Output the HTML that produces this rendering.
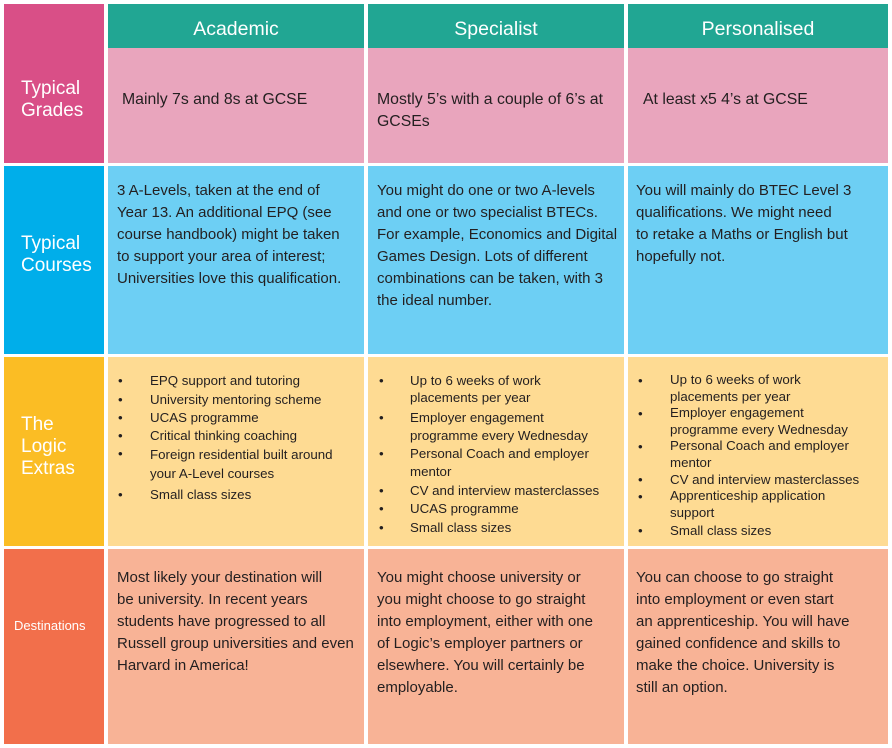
<!DOCTYPE html>
<html><head><meta charset="utf-8"><style>
body{margin:0;width:892px;height:748px;background:#fff;position:relative;font-family:"Liberation Sans",sans-serif;overflow:hidden}
.b{position:absolute}
.t{position:absolute;white-space:nowrap;color:#231f20;font-size:15px;line-height:22px}
.s{position:absolute;white-space:nowrap;color:#231f20;font-size:13.3px;line-height:17px}
.w{position:absolute;color:#fff;white-space:nowrap}
.h{font-size:19.5px;text-align:center;line-height:24px}
.lab{font-size:19px;line-height:22px}
</style></head><body>
<div class="b" style="left:4px;top:4px;width:100px;height:159px;background:#d94f87"></div>
<div class="b" style="left:4px;top:166px;width:100px;height:188px;background:#00aeea"></div>
<div class="b" style="left:4px;top:357px;width:100px;height:189px;background:#fbbd24"></div>
<div class="b" style="left:4px;top:549px;width:100px;height:195px;background:#f26f4b"></div>
<div class="w lab" style="left:21px;top:78px">Typical<br>Grades</div>
<div class="w lab" style="left:21px;top:233px">Typical<br>Courses</div>
<div class="w lab" style="left:21px;top:414px">The<br>Logic<br>Extras</div>
<div class="w" style="left:14px;top:618px;font-size:13px">Destinations</div>
<div class="b" style="left:108px;top:4px;width:256px;height:44px;background:#21a693"></div>
<div class="b" style="left:368px;top:4px;width:256px;height:44px;background:#21a693"></div>
<div class="b" style="left:628px;top:4px;width:260px;height:44px;background:#21a693"></div>
<div class="w h" style="left:108px;top:17px;width:256px">Academic</div>
<div class="w h" style="left:368px;top:17px;width:256px">Specialist</div>
<div class="w h" style="left:628px;top:17px;width:260px">Personalised</div>
<div class="b" style="left:108px;top:48px;width:256px;height:115px;background:#e9a5bd"></div>
<div class="b" style="left:368px;top:48px;width:256px;height:115px;background:#e9a5bd"></div>
<div class="b" style="left:628px;top:48px;width:260px;height:115px;background:#e9a5bd"></div>
<div class="b" style="left:108px;top:166px;width:256px;height:188px;background:#6dcff4"></div>
<div class="b" style="left:368px;top:166px;width:256px;height:188px;background:#6dcff4"></div>
<div class="b" style="left:628px;top:166px;width:260px;height:188px;background:#6dcff4"></div>
<div class="b" style="left:108px;top:357px;width:256px;height:189px;background:#fedb93"></div>
<div class="b" style="left:368px;top:357px;width:256px;height:189px;background:#fedb93"></div>
<div class="b" style="left:628px;top:357px;width:260px;height:189px;background:#fedb93"></div>
<div class="b" style="left:108px;top:549px;width:256px;height:195px;background:#f8b396"></div>
<div class="b" style="left:368px;top:549px;width:256px;height:195px;background:#f8b396"></div>
<div class="b" style="left:628px;top:549px;width:260px;height:195px;background:#f8b396"></div>
<div class="t" style="left:122px;top:89px;font-size:15.8px">Mainly 7s and 8s at GCSE</div>
<div class="t" style="left:377px;top:89px;font-size:15.8px">Mostly 5’s with a couple of 6’s at<br>GCSEs</div>
<div class="t" style="left:643px;top:89px;font-size:15.8px">At least x5 4’s at GCSE</div>
<div class="t" style="left:117px;top:180px">3 A-Levels, taken at the end of<br>Year 13. An additional EPQ (see<br>course handbook) might be taken<br>to support your area of interest;<br>Universities love this qualification.</div>
<div class="t" style="left:377px;top:180px">You might do one or two A-levels<br>and one or two specialist BTECs.<br>For example, Economics and Digital<br>Games Design. Lots of different<br>combinations can be taken, with 3<br>the ideal number.</div>
<div class="t" style="left:636px;top:180px">You will mainly do BTEC Level 3<br>qualifications. We might need<br>to retake a Maths or English but<br>hopefully not.</div>
<div class="s" style="left:118px;top:372px">•</div><div class="s" style="left:150px;top:372px">EPQ support and tutoring</div>
<div class="s" style="left:118px;top:391px">•</div><div class="s" style="left:150px;top:391px">University mentoring scheme</div>
<div class="s" style="left:118px;top:409px">•</div><div class="s" style="left:150px;top:409px">UCAS programme</div>
<div class="s" style="left:118px;top:427px">•</div><div class="s" style="left:150px;top:427px">Critical thinking coaching</div>
<div class="s" style="left:118px;top:445px">•</div><div class="s" style="left:150px;top:445px;line-height:19px">Foreign residential built around<br>your A-Level courses</div>
<div class="s" style="left:118px;top:486px">•</div><div class="s" style="left:150px;top:486px">Small class sizes</div>
<div class="s" style="left:379px;top:372px">•</div><div class="s" style="left:410px;top:372px">Up to 6 weeks of work<br>placements per year</div>
<div class="s" style="left:379px;top:409px">•</div><div class="s" style="left:410px;top:409px;line-height:18px">Employer engagement<br>programme every Wednesday</div>
<div class="s" style="left:379px;top:445px">•</div><div class="s" style="left:410px;top:445px;line-height:18px">Personal Coach and employer<br>mentor</div>
<div class="s" style="left:379px;top:482px">•</div><div class="s" style="left:410px;top:482px">CV and interview masterclasses</div>
<div class="s" style="left:379px;top:500px">•</div><div class="s" style="left:410px;top:500px">UCAS programme</div>
<div class="s" style="left:379px;top:519px">•</div><div class="s" style="left:410px;top:519px">Small class sizes</div>
<div class="s" style="left:638px;top:372px">•</div><div class="s" style="left:670px;top:372px;line-height:16.5px">Up to 6 weeks of work<br>placements per year</div>
<div class="s" style="left:638px;top:405px">•</div><div class="s" style="left:670px;top:405px;line-height:16.5px">Employer engagement<br>programme every Wednesday</div>
<div class="s" style="left:638px;top:438px">•</div><div class="s" style="left:670px;top:438px;line-height:16.5px">Personal Coach and employer<br>mentor</div>
<div class="s" style="left:638px;top:471px">•</div><div class="s" style="left:670px;top:471px">CV and interview masterclasses</div>
<div class="s" style="left:638px;top:488px">•</div><div class="s" style="left:670px;top:488px;line-height:16.5px">Apprenticeship application<br>support</div>
<div class="s" style="left:638px;top:522px">•</div><div class="s" style="left:670px;top:522px">Small class sizes</div>
<div class="t" style="left:117px;top:567px">Most likely your destination will<br>be university. In recent years<br>students have progressed to all<br>Russell group universities and even<br>Harvard in America!</div>
<div class="t" style="left:377px;top:567px">You might choose university or<br>you might choose to go straight<br>into employment, either with one<br>of Logic’s employer partners or<br>elsewhere. You will certainly be<br>employable.</div>
<div class="t" style="left:636px;top:567px">You can choose to go straight<br>into employment or even start<br>an apprenticeship. You will have<br>gained confidence and skills to<br>make the choice. University is<br>still an option.</div>
</body></html>
